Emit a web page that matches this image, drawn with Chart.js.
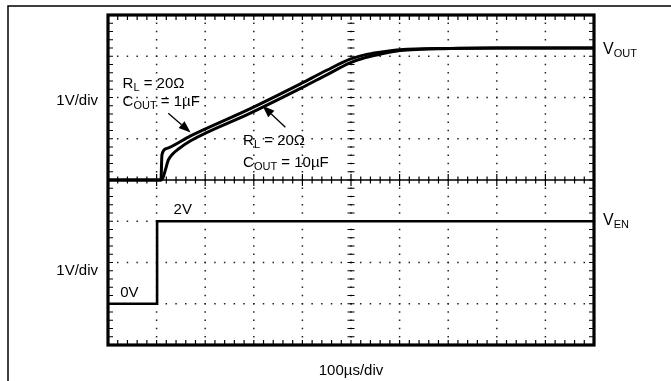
<!DOCTYPE html>
<html>
<head>
<meta charset="utf-8">
<script src="https://cdn.jsdelivr.net/npm/chart.js@4.4.1/dist/chart.umd.min.js"></script>
<style>
  html, body { margin: 0; padding: 0; background: #fff; }
  canvas { display: block; }
</style>
</head>
<body>
<canvas id="scope" width="671" height="381"></canvas>
<script>
// time in microseconds, voltages in volts
const tOut1uF = [0, 109, 111, 120, 170, 293, 396, 450, 498, 530, 560, 601, 704, 800, 1000];
const vOut1uF = [0, 0, 0.61, 0.76, 1.07, 1.73, 2.33, 2.66, 2.93, 3.04, 3.10, 3.16, 3.19, 3.2, 3.2];

const tOut10uF = [0, 109, 113, 118, 124, 133, 145, 170, 293, 396, 450, 498, 530, 560, 601, 704, 800, 1000];
const vOut10uF = [0, 0, 0.05, 0.24, 0.48, 0.63, 0.75, 0.95, 1.62, 2.22, 2.55, 2.84, 2.97, 3.05, 3.14, 3.19, 3.2, 3.2];

const tEn = [0, 101, 101, 1000];
const vEn = [0, 0, 2, 2];

// screen: 10 x 8 divisions, 5 minor ticks each; 100us/div, 1V/div
const X_DIVS = 10, Y_DIVS = 8, MINOR = 5, US_PER_DIV = 100;
const VOUT_ZERO_DIV = 4, VEN_ZERO_DIV = 1;

const FONT = '"Liberation Sans", Arial, sans-serif';

function toPoints(ts, vs, offset) {
    return ts.map((t, i) => ({ x: t, y: vs[i] + offset }));
}

// draw "main" + subscript parts, left aligned at x, baseline y
function subText(ctx, x, y, parts) {
    let cx = x;
    parts.forEach(([txt, size, dy]) => {
        ctx.font = size + 'px ' + FONT;
        ctx.fillText(txt, cx, y + dy);
        cx += ctx.measureText(txt).width;
    });
    return cx - x;
}

function arrow(ctx, x0, y0, x1, y1) {
    const ang = Math.atan2(y1 - y0, x1 - x0);
    const len = 12, half = 4.5;
    ctx.beginPath();
    ctx.moveTo(x0, y0);
    ctx.lineTo(x1 - Math.cos(ang) * len, y1 - Math.sin(ang) * len);
    ctx.lineWidth = 1.3;
    ctx.stroke();
    ctx.beginPath();
    ctx.moveTo(x1, y1);
    ctx.lineTo(x1 - Math.cos(ang) * len - Math.sin(ang) * half, y1 - Math.sin(ang) * len + Math.cos(ang) * half);
    ctx.lineTo(x1 - Math.cos(ang) * len + Math.sin(ang) * half, y1 - Math.sin(ang) * len - Math.cos(ang) * half);
    ctx.closePath();
    ctx.fill();
}

const scopePlugin = {
    id: 'scope',
    beforeDraw(chart) {
        const ctx = chart.ctx;
        ctx.save();
        ctx.strokeStyle = '#000';
        ctx.lineWidth = 1.5;
        ctx.beginPath();
        ctx.moveTo(8, chart.height);
        ctx.lineTo(8, 6);
        ctx.lineTo(chart.width, 6);
        ctx.stroke();
        ctx.restore();
    },
    beforeDatasetsDraw(chart) {
        const { ctx, chartArea: a, scales: { x, y } } = chart;
        const xm = i => x.getPixelForValue(i * US_PER_DIV / MINOR);
        const ym = j => y.getPixelForValue(j / MINOR);
        ctx.save();
        ctx.fillStyle = '#222';
        // dotted graticule
        for (let i = 1; i < X_DIVS; i++) {
            const px = xm(i * MINOR);
            for (let j = 1; j < Y_DIVS * MINOR; j++) ctx.fillRect(px - 0.75, ym(j) - 0.75, 1.5, 1.5);
        }
        for (let j = 1; j < Y_DIVS; j++) {
            if (j === VOUT_ZERO_DIV) continue;
            const py = ym(j * MINOR);
            for (let i = 1; i < X_DIVS * MINOR; i++) ctx.fillRect(xm(i) - 0.75, py - 0.75, 1.5, 1.5);
        }
        ctx.strokeStyle = '#000';
        // centre horizontal line with ticks
        const cy = y.getPixelForValue(VOUT_ZERO_DIV);
        ctx.lineWidth = 1.5;
        ctx.beginPath();
        ctx.moveTo(a.left, cy);
        ctx.lineTo(a.right, cy);
        ctx.stroke();
        ctx.lineWidth = 1.2;
        ctx.beginPath();
        for (let i = 1; i < X_DIVS * MINOR; i++) {
            const h = i % MINOR === 0 ? 6 : 3.5;
            ctx.moveTo(xm(i), cy - h);
            ctx.lineTo(xm(i), cy + h);
        }
        // centre vertical ticks
        const cx = x.getPixelForValue(X_DIVS / 2 * US_PER_DIV);
        for (let j = 1; j < Y_DIVS * MINOR; j++) {
            ctx.moveTo(cx - 3.5, ym(j));
            ctx.lineTo(cx + 3.5, ym(j));
        }
        // edge ticks
        for (let i = 1; i < X_DIVS * MINOR; i++) {
            ctx.moveTo(xm(i), a.top);
            ctx.lineTo(xm(i), a.top + 5);
            ctx.moveTo(xm(i), a.bottom);
            ctx.lineTo(xm(i), a.bottom - 5);
        }
        for (let j = 1; j < Y_DIVS * MINOR; j++) {
            ctx.moveTo(a.left, ym(j));
            ctx.lineTo(a.left + 5, ym(j));
            ctx.moveTo(a.right, ym(j));
            ctx.lineTo(a.right - 5, ym(j));
        }
        ctx.stroke();
        ctx.restore();
    },
    afterDraw(chart) {
        const { ctx, chartArea: a, scales: { x, y } } = chart;
        ctx.save();
        ctx.strokeStyle = '#000';
        ctx.fillStyle = '#000';
        ctx.lineWidth = 3.2;
        ctx.strokeRect(a.left, a.top, a.right - a.left, a.bottom - a.top);

        ctx.textBaseline = 'alphabetic';
        ctx.textAlign = 'left';
        const px = t => x.getPixelForValue(t);
        const py = d => y.getPixelForValue(d);

        // channel labels
        ctx.font = '15px ' + FONT;
        ctx.textAlign = 'right';
        ctx.fillText('1V/div', a.left - 10, py(6) + 7);
        ctx.fillText('1V/div', a.left - 10, py(2) + 12);
        ctx.textAlign = 'center';
        ctx.fillText('100\u00b5s/div', px(X_DIVS / 2 * US_PER_DIV), a.bottom + 30);
        ctx.textAlign = 'left';
        subText(ctx, a.right + 9, py(VOUT_ZERO_DIV + 3.2) + 6, [['V', 16, 0], ['OUT', 11, 3]]);
        subText(ctx, a.right + 9, py(VEN_ZERO_DIV + 2) + 4, [['V', 16, 0], ['EN', 11, 3]]);
        ctx.font = '15px ' + FONT;
        ctx.fillText('2V', px(135), py(VEN_ZERO_DIV + 2) - 7);
        ctx.fillText('0V', px(25), py(VEN_ZERO_DIV) - 7);

        // load annotations
        subText(ctx, px(30), py(6.22), [['R', 15, 0], ['L', 11, 3], [' = 20\u03a9', 15, 0]]);
        subText(ctx, px(30), py(5.79), [['C', 15, 0], ['OUT', 11, 3], [' = 1\u00b5F', 15, 0]]);
        subText(ctx, px(278), py(4.85), [['R', 15, 0], ['L', 11, 3], [' = 20\u03a9', 15, 0]]);
        subText(ctx, px(278), py(4.32), [['C', 15, 0], ['OUT', 11, 3], [' = 10\u00b5F', 15, 0]]);
        arrow(ctx, px(124), py(5.62), px(170), py(5.15));
        arrow(ctx, px(365), py(5.28), px(318), py(5.8));
        ctx.restore();
    }
};

new Chart(document.getElementById('scope'), {
    type: 'line',
    data: {
        datasets: [
            {
                label: 'VOUT 1uF',
                data: toPoints(tOut1uF, vOut1uF, VOUT_ZERO_DIV),
                borderColor: '#000',
                borderWidth: 3,
                pointRadius: 0,
                cubicInterpolationMode: 'monotone'
            },
            {
                label: 'VOUT 10uF',
                data: toPoints(tOut10uF, vOut10uF, VOUT_ZERO_DIV),
                borderColor: '#000',
                borderWidth: 3,
                pointRadius: 0,
                cubicInterpolationMode: 'monotone'
            },
            {
                label: 'VEN',
                data: toPoints(tEn, vEn, VEN_ZERO_DIV),
                borderColor: '#000',
                borderWidth: 2.6,
                pointRadius: 0,
                tension: 0
            }
        ]
    },
    options: {
        responsive: false,
        animation: false,
        devicePixelRatio: 1,
        layout: { padding: { left: 108, top: 15, right: 77, bottom: 36 } },
        plugins: { legend: { display: false }, tooltip: { enabled: false } },
        scales: {
            x: { type: 'linear', min: 0, max: X_DIVS * US_PER_DIV, display: false },
            y: { type: 'linear', min: 0, max: Y_DIVS, display: false }
        }
    },
    plugins: [scopePlugin]
});
</script>
</body>
</html>
